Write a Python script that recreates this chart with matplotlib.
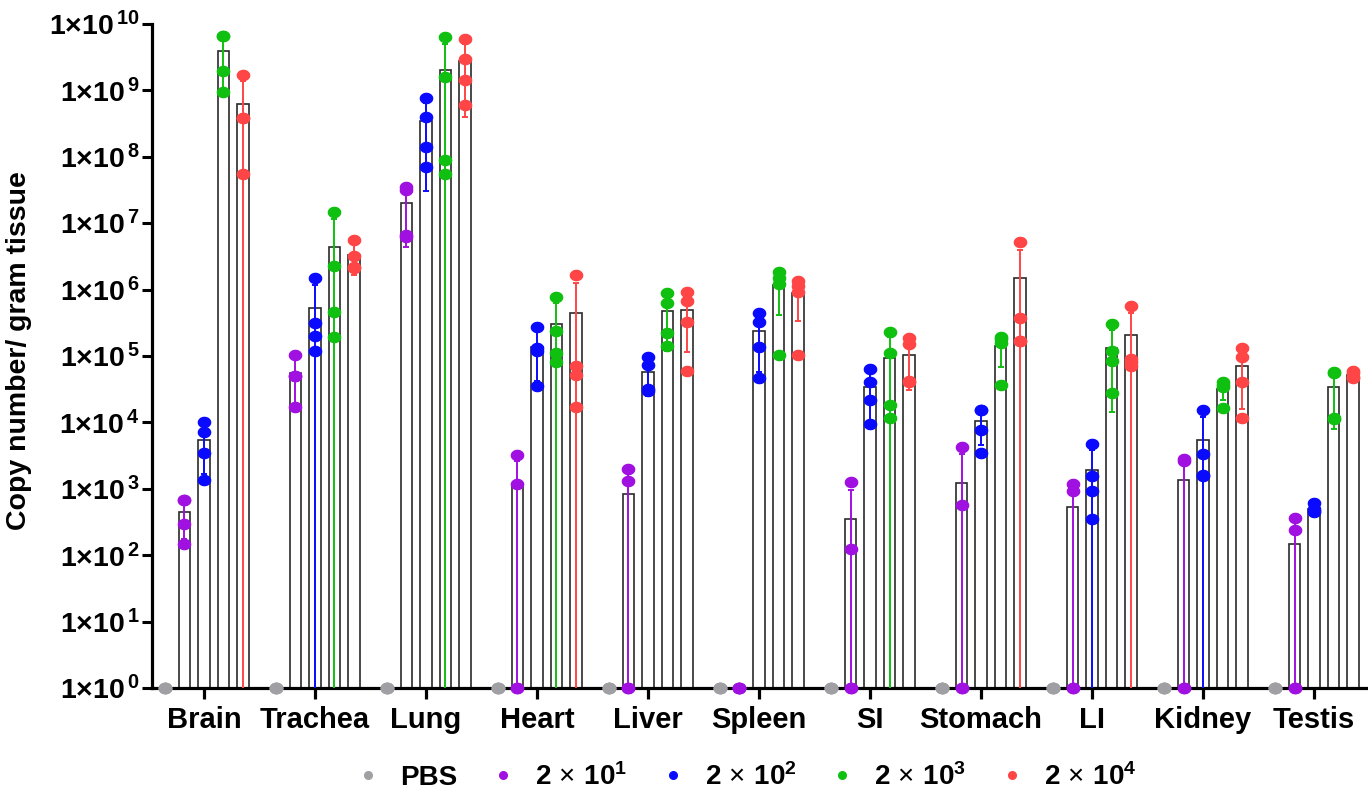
import numpy as np
import matplotlib
matplotlib.use('Agg')
import matplotlib.pyplot as plt
from matplotlib.path import Path
from matplotlib.lines import Line2D
from matplotlib.ticker import FixedLocator, FixedFormatter, NullLocator

plt.rcParams['font.family'] = ['Liberation Sans', 'DejaVu Sans']
plt.rcParams['mathtext.fontset'] = 'custom'
plt.rcParams['mathtext.rm'] = 'Liberation Sans'
plt.rcParams['mathtext.it'] = 'Liberation Sans:italic'
plt.rcParams['mathtext.bf'] = 'Liberation Sans:bold'

tissues = ['Brain', 'Trachea', 'Lung', 'Heart', 'Liver', 'Spleen', 'SI',
           'Stomach', 'LI', 'Kidney', 'Testis']

group_labels = ['PBS',
                r'$\mathbf{2}\,\times\,\mathbf{10}^{\mathbf{1}}$',
                r'$\mathbf{2}\,\times\,\mathbf{10}^{\mathbf{2}}$',
                r'$\mathbf{2}\,\times\,\mathbf{10}^{\mathbf{3}}$',
                r'$\mathbf{2}\,\times\,\mathbf{10}^{\mathbf{4}}$']
group_colors = ['#a0a0a4', '#a010e0', '#0a0aff', '#10c010', '#ff4545']

# copy number / gram tissue, 4 mice per group (0 = not detected)
pbs = [[0, 0, 0, 0]] * 11

dose_2e1 = [
    [680, 680, 295, 145],
    [1.05e5, 5.0e4, 5.0e4, 1.7e4],
    [3.5e7, 3.2e7, 6.6e6, 6.3e6],
    [3.2e3, 1.2e3, 0, 0],
    [2.0e3, 1.3e3, 0, 0],
    [0, 0, 0, 0],
    [1.26e3, 126, 0, 0],
    [4.3e3, 580, 0, 0],
    [1.2e3, 930, 0, 0],
    [2.8e3, 2.6e3, 0, 0],
    [360, 240, 0, 0],
]

dose_2e2 = [
    [1.0e4, 7.2e3, 3.5e3, 1.35e3],
    [1.48e6, 3.1e5, 2.0e5, 1.2e5],
    [7.6e8, 4.0e8, 1.4e8, 7.0e7],
    [2.7e5, 1.3e5, 1.2e5, 3.5e4],
    [9.8e4, 7.2e4, 3.2e4, 3.0e4],
    [4.5e5, 3.2e5, 1.35e5, 4.7e4],
    [6.3e4, 4.1e4, 2.2e4, 9.5e3],
    [1.55e4, 1.55e4, 7.8e3, 3.5e3],
    [4.8e3, 1.55e3, 930, 350],
    [1.55e4, 3.3e3, 1.6e3, 1.55e3],
    [620, 500, 460, 440],
]

dose_2e3 = [
    [6.5e9, 6.5e9, 1.95e9, 9.3e8],
    [1.48e7, 2.3e6, 4.6e5, 1.9e5],
    [6.3e9, 1.6e9, 9.0e7, 5.6e7],
    [7.8e5, 2.4e5, 1.1e5, 8.1e4],
    [8.9e5, 6.3e5, 2.2e5, 1.4e5],
    [1.86e6, 1.51e6, 1.2e6, 1.05e5],
    [2.3e5, 1.1e5, 1.8e4, 1.17e4],
    [1.95e5, 1.78e5, 1.55e5, 3.6e4],
    [3.0e5, 1.17e5, 8.3e4, 2.8e4],
    [4.1e4, 3.7e4, 3.4e4, 1.66e4],
    [5.7e4, 5.5e4, 1.17e4, 1.12e4],
]

dose_2e4 = [
    [1.7e9, 3.9e8, 3.9e8, 5.6e7],
    [5.6e6, 3.2e6, 2.2e6, 2.1e6],
    [5.9e9, 2.95e9, 1.45e9, 6.0e8],
    [1.66e6, 7.1e4, 5.2e4, 1.7e4],
    [9.3e5, 6.8e5, 3.3e5, 5.9e4],
    [1.35e6, 1.12e6, 9.3e5, 1.02e5],
    [1.86e5, 1.51e5, 4.2e4, 4.1e4],
    [5.25e6, 3.8e5, 1.66e5, 1.66e5],
    [5.75e5, 9.1e4, 8.1e4, 7.0e4],
    [1.32e5, 9.8e4, 4.0e4, 1.17e4],
    [5.9e4, 5.6e4, 4.9e4, 4.6e4],
]

series = [pbs, dose_2e1, dose_2e2, dose_2e3, dose_2e4]

# slightly wide ellipse like the original dots
t = np.linspace(0, 2 * np.pi, 60)
dot = Path(np.column_stack([1.2 * np.cos(t), np.sin(t)]), closed=True)

fig = plt.figure(figsize=(13.68, 7.97), dpi=100)
ax = fig.add_axes([152 / 1368, 109 / 797, 1216 / 1368, 664 / 797])
ax.set_yscale('log')
ax.set_ylim(1, 1e10)
ax.set_xlim(-0.468, 10.486)

pos = np.arange(len(tissues))
step = 0.1757
width = 0.105

for gi, (vals, color) in enumerate(zip(series, group_colors)):
    vals = np.array(vals, dtype=float)
    x = pos + (gi - 2) * step
    mean = vals.mean(axis=1)
    sd = vals.std(axis=1, ddof=1)
    has = mean > 0
    if gi > 0:
        ax.bar(x[has], mean[has], width, color='white', edgecolor='#2a2a2a',
               linewidth=1.2, zorder=2)
        hi = mean + sd
        lo = np.clip(mean - sd, 1e-3, None)
        ax.vlines(x[has], lo[has], hi[has], color=color, linewidth=1.4, zorder=3)
        ax.plot(x[has], hi[has], ls='none', marker='_', ms=5, mew=1.4,
                color=color, zorder=3)
        low_ok = has & (mean - sd > 1)
        ax.plot(x[low_ok], lo[low_ok], ls='none', marker='_', ms=5, mew=1.4,
                color=color, zorder=3)
    for k in range(vals.shape[1]):
        y = np.where(vals[:, k] > 0, vals[:, k], 1.0)
        ax.plot(x, y, ls='none', marker=dot, ms=8.8, color=color,
                mec=color, clip_on=False, zorder=6)

for side in ['top', 'right']:
    ax.spines[side].set_visible(False)
for side in ['left', 'bottom']:
    ax.spines[side].set_linewidth(2.3)

exps = list(range(0, 11))
ax.yaxis.set_major_locator(FixedLocator([10.0 ** e for e in exps]))
ax.yaxis.set_major_formatter(FixedFormatter(
    [r'$\mathbf{1{\times}10}^{\,\mathbf{%d}}$' % e for e in exps]))
ax.yaxis.set_minor_locator(NullLocator())
ax.tick_params(axis='y', length=7, width=2.2, labelsize=20.5, pad=2)

ax.set_xticks(pos)
ax.set_xticklabels(tissues, fontsize=21, fontweight='bold')
ax.tick_params(axis='x', length=8, width=2.3, pad=5)

ax.set_ylabel('Copy number/ gram tissue', fontsize=20.5, fontweight='bold')
ax.yaxis.set_label_coords(-0.099, 0.5075)

handles = [Line2D([], [], ls='none', marker='o', ms=5.5, color=c, mec=c)
           for c in group_colors]
fig.legend(handles, group_labels, loc='center', ncol=5, frameon=False,
           bbox_to_anchor=(745 / 1368, 1 - 777 / 797),
           prop={'size': 20, 'weight': 'bold'},
           handlelength=1.0, handletextpad=0.65, columnspacing=1.15)

fig.savefig('out.png', dpi=100)
